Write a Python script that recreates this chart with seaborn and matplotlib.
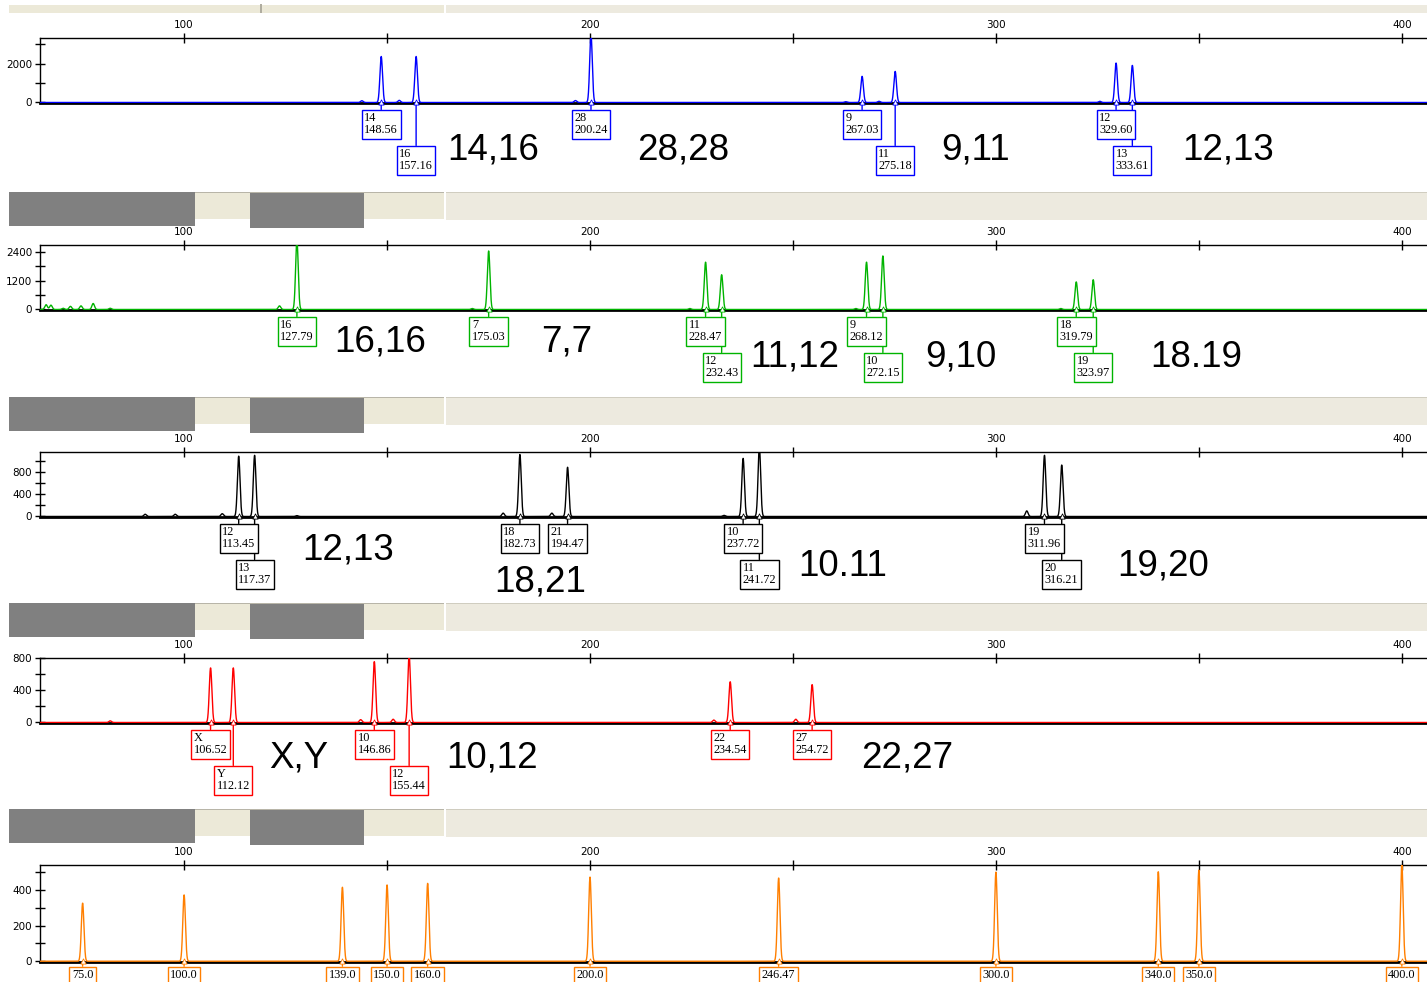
import numpy as np
import pandas as pd
import matplotlib
matplotlib.use('Agg')
import matplotlib.pyplot as plt
from matplotlib.patches import Rectangle
import seaborn as sns

W, H = 1427, 982

# size axis in bp, shared by all dyes
X_MIN, X_MAX = 64.5, 406.2
X_TICKS = [100, 150, 200, 250, 300, 350, 400]
X_LABELS = ['100', '', '200', '', '300', '', '400']

# ---- blue dye ----
blue_peak_pos = [143.8, 148.56, 153.0, 157.16, 196.4, 200.24, 263.0, 267.03,
                 271.2, 275.18, 325.6, 329.60, 333.61]
blue_peak_hgt = [90, 2375, 110, 2375, 100, 3500, 40, 1350, 60, 1605, 60, 2035, 1915]
blue_alleles = ['14', '16', '28', '9', '11', '12', '13']
blue_sizes = [148.56, 157.16, 200.24, 267.03, 275.18, 329.60, 333.61]
blue_genotypes = ['14,16', '28,28', '9,11', '12,13']

# ---- green dye ----
green_peak_pos = [66.0, 67.2, 70.2, 72.0, 74.6, 77.6, 81.8, 123.5, 127.79, 171.0,
                  175.03, 224.6, 228.47, 232.43, 265.5, 268.12, 272.15, 316.0,
                  319.79, 323.97]
green_peak_hgt = [200, 180, 50, 130, 150, 250, 50, 150, 2900, 40,
                  2440, 40, 1975, 1450, 40, 1975, 2235, 40, 1150, 1240]
green_alleles = ['16', '7', '11', '12', '9', '10', '18', '19']
green_sizes = [127.79, 175.03, 228.47, 232.43, 268.12, 272.15, 319.79, 323.97]
green_genotypes = ['16,16', '7,7', '11,12', '9,10', '18.19']

# ---- black dye ----
black_peak_pos = [90.4, 97.8, 109.4, 113.45, 117.37, 127.8, 178.6, 182.73, 190.6,
                  194.47, 233.0, 237.72, 241.72, 307.6, 311.96, 316.21]
black_peak_hgt = [40, 40, 50, 1085, 1100, 15, 60, 1115, 60,
                  885, 20, 1045, 1250, 100, 1100, 925]
black_alleles = ['12', '13', '18', '21', '10', '11', '19', '20']
black_sizes = [113.45, 117.37, 182.73, 194.47, 237.72, 241.72, 311.96, 316.21]
black_genotypes = ['12,13', '18,21', '10.11', '19,20']

# ---- red dye ----
red_peak_pos = [81.8, 106.52, 112.12, 143.5, 146.86, 151.5, 155.44, 230.5,
                234.54, 250.7, 254.72]
red_peak_hgt = [20, 677, 677, 35, 755, 40, 830, 30, 505, 40, 470]
red_alleles = ['X', 'Y', '10', '12', '22', '27']
red_sizes = [106.52, 112.12, 146.86, 155.44, 234.54, 254.72]
red_genotypes = ['X,Y', '10,12', '22,27']

# ---- orange size standard ----
orange_peak_pos = [75.0, 100.0, 139.0, 150.0, 160.0, 200.0, 246.47, 300.0, 340.0, 350.0, 400.0]
orange_peak_hgt = [326, 372, 415, 428, 437, 472, 467, 500, 502, 511, 545]

# ---- layout (pixels) ----
panels = [
    dict(color='#0000FF', top=38, base=103, ymax=3330,
         yticks=[0, 1000, 2000, 3000], ylabels=['0', '', '2000', ''],
         pos=blue_peak_pos, hgt=blue_peak_hgt, alleles=blue_alleles, sizes=blue_sizes,
         levels=[0, 1, 0, 0, 1, 0, 1],
         geno=blue_genotypes, geno_x=[164.8, 211.6, 286.5, 345.8], geno_dy=[48, 48, 48, 48]),
    dict(color='#00B400', top=245, base=310, ymax=2690,
         yticks=[0, 600, 1200, 1800, 2400], ylabels=['0', '', '1200', '', '2400'],
         pos=green_peak_pos, hgt=green_peak_hgt, alleles=green_alleles, sizes=green_sizes,
         levels=[0, 0, 0, 1, 0, 1, 0, 1],
         geno=green_genotypes, geno_x=[136.9, 187.9, 239.4, 282.5, 337.9],
         geno_dy=[33, 33, 48, 48, 48]),
    dict(color='#000000', top=452, base=517, ymax=1160,
         yticks=[0, 200, 400, 600, 800, 1000], ylabels=['0', '', '400', '', '800', ''],
         pos=black_peak_pos, hgt=black_peak_hgt, alleles=black_alleles, sizes=black_sizes,
         levels=[0, 1, 0, 0, 0, 1, 0, 1],
         geno=black_genotypes, geno_x=[129.1, 176.4, 251.2, 330.0], geno_dy=[34, 66, 50, 50]),
    dict(color='#FF0000', top=658, base=723, ymax=800,
         yticks=[0, 200, 400, 600, 800], ylabels=['0', '', '400', '', '800'],
         pos=red_peak_pos, hgt=red_peak_hgt, alleles=red_alleles, sizes=red_sizes,
         levels=[0, 1, 0, 1, 0, 0],
         geno=red_genotypes, geno_x=[120.9, 164.5, 266.7], geno_dy=[36, 36, 36]),
    dict(color='#FF7F00', top=865, base=962, ymax=540,
         yticks=[0, 100, 200, 300, 400, 500], ylabels=['0', '', '200', '', '400', ''],
         pos=orange_peak_pos, hgt=orange_peak_hgt, alleles=None, sizes=orange_peak_pos,
         levels=[0] * len(orange_peak_pos),
         geno=[], geno_x=[], geno_dy=[]),
]

strip_tops = [192, 397, 603, 809]
BEIGE = '#ECE9D8'
BEIGE2 = '#EDEADF'
DARK = '#808080'
SIGMA = 0.32


def trace(pos, hgt):
    """Build an electropherogram trace from peak positions and heights."""
    xs = np.arange(X_MIN, X_MAX, 0.02)
    ys = np.zeros_like(xs)
    for p, h in zip(pos, hgt):
        ys += h * np.exp(-0.5 * ((xs - p) / SIGMA) ** 2)
    return pd.DataFrame({'size': xs, 'rfu': ys})


def px_rect(fig, x0, y0, x1, y1, color, z=0):
    fig.add_artist(Rectangle((x0 / W, 1 - y1 / H), (x1 - x0) / W, (y1 - y0) / H,
                             transform=fig.transFigure, facecolor=color,
                             edgecolor='none', zorder=z))


def draw_strip(fig, y0):
    px_rect(fig, 9, y0, 444, y0 + 1, '#B8B5A8')
    px_rect(fig, 9, y0 + 1, 444, y0 + 27, BEIGE)
    px_rect(fig, 446, y0, 1427, y0 + 1, '#D0CDC0')
    px_rect(fig, 446, y0 + 1, 1427, y0 + 28, BEIGE2)
    px_rect(fig, 9, y0, 195, y0 + 34, DARK, 1)
    px_rect(fig, 250, y0 + 1, 364, y0 + 36, DARK, 1)


sns.set_style('white')
plt.rcParams['font.family'] = ['DejaVu Sans']
plt.rcParams['text.color'] = 'black'

fig = plt.figure(figsize=(W / 100, H / 100), dpi=100)

# top strip (cut off)
px_rect(fig, 9, 5, 444, 13, BEIGE)
px_rect(fig, 446, 5, 1427, 13, BEIGE2)
px_rect(fig, 260, 4, 262, 13, '#B0ADA0')
for y0 in strip_tops:
    draw_strip(fig, y0)

for p in panels:
    c = p['color']
    ax = fig.add_axes([40 / W, 1 - p['base'] / H, (W - 40) / W, (p['base'] - p['top']) / H])
    df = trace(p['pos'], p['hgt'])
    sns.lineplot(data=df, x='size', y='rfu', ax=ax, color=c, lw=1,
                 estimator=None, sort=False, zorder=3)
    ax.set_xlim(X_MIN, X_MAX)
    ax.set_ylim(-p['ymax'] * 0.008, p['ymax'])
    ax.set_xlabel('')
    ax.set_ylabel('')
    ax.xaxis.tick_top()
    ax.set_xticks(X_TICKS)
    ax.set_xticklabels(X_LABELS)
    ax.set_yticks(p['yticks'])
    ax.set_yticklabels(p['ylabels'])
    ax.tick_params(axis='x', direction='inout', length=7, width=1, pad=2,
                   labelsize=7.5, top=True, bottom=False, colors='black')
    ax.tick_params(axis='y', direction='inout', length=7, width=1, pad=2,
                   labelsize=7.5, left=True, colors='black')
    for side in ['top', 'left']:
        ax.spines[side].set_color('black')
        ax.spines[side].set_linewidth(1)
    ax.spines['bottom'].set_color('black')
    ax.spines['bottom'].set_linewidth(2)
    ax.spines['right'].set_visible(False)
    ax.patch.set_alpha(0)

    # leader lines first, boxes on top
    for i, s in enumerate(p['sizes']):
        dy = 7 if p['levels'][i] == 0 else 43
        if p['alleles'] is None:
            dy = 5
        ax.annotate('', xy=(s, 0), xytext=(0, -dy), textcoords='offset pixels',
                    arrowprops=dict(arrowstyle='-', color=c, lw=1, shrinkA=0, shrinkB=0),
                    annotation_clip=False, zorder=4)
        ax.scatter([s], [0], marker='^', s=14, facecolor='white', edgecolor=c,
                   lw=0.6, zorder=5, clip_on=False)
    for i, s in enumerate(p['sizes']):
        dy = 7 if p['levels'][i] == 0 else 43
        if p['alleles'] is None:
            txt = f'{s:.1f}' if s == round(s) else f'{s:.2f}'
            dy = 5
        else:
            txt = f"{p['alleles'][i]}\n{s:.2f}"
        ax.annotate(txt, xy=(s, 0), xytext=(0, -dy - 3), textcoords='offset pixels',
                    ha='center', va='top', multialignment='left', color='black',
                    fontsize=8.8, family='Liberation Serif', linespacing=1.0,
                    bbox=dict(boxstyle='square,pad=0.2', fc='white', ec=c, lw=1),
                    annotation_clip=False, zorder=6)

    # called genotypes
    for g, gx, gdy in zip(p['geno'], p['geno_x'], p['geno_dy']):
        ax.annotate(g, xy=(gx, 0), xytext=(0, -gdy), textcoords='offset pixels',
                    ha='left', va='center', fontsize=26.5, family='Liberation Sans',
                    color='black', annotation_clip=False, zorder=6)

fig.savefig('out.png', dpi=100)
